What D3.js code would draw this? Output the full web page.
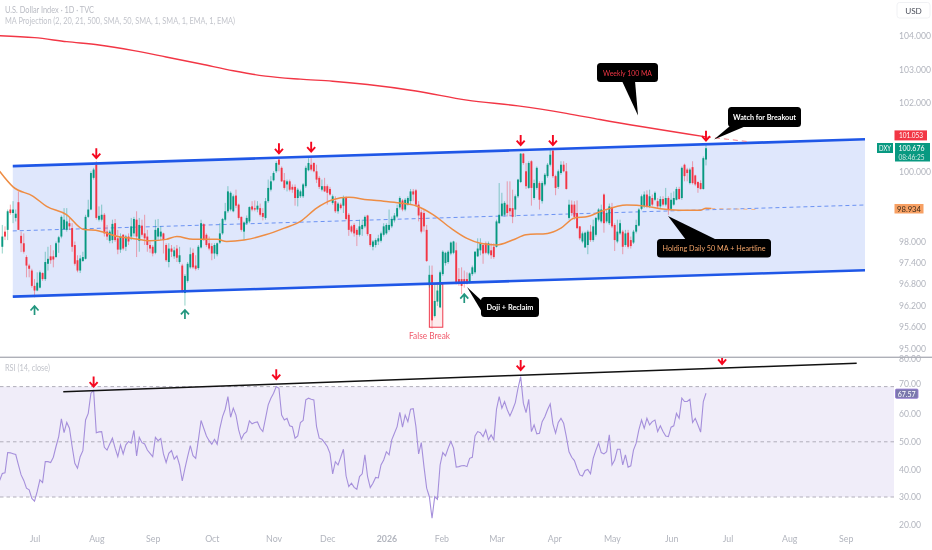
<!DOCTYPE html>
<html>
<head>
<meta charset="utf-8">
<script src="https://cdn.jsdelivr.net/npm/d3@7"></script>
<style>
  html, body { margin: 0; padding: 0; background: #fff; }
  svg { display: block; font-family: Lato, "Liberation Sans", sans-serif; }
</style>
</head>
<body>
<div id="chart"></div>
<script>
// daily candles, one row of ten per line
const opens = [
  97.85,98.28,98.33,98.91,98.81,98.67,99.12,98.16,97.95,97.56,
  97.32,97.18,96.75,96.62,96.70,97.11,96.94,97.37,97.58,97.58,
  97.56,97.97,98.14,98.35,98.33,98.52,98.38,97.90,97.47,97.18,
  97.45,97.51,98.70,98.91,99.82,100.20,98.62,98.62,98.76,98.28,
  98.02,98.04,98.52,98.09,97.77,98.19,97.85,98.14,98.14,98.23,
  98.62,98.02,98.45,98.23,98.14,97.90,97.85,97.68,98.14,98.14,
  98.23,97.90,97.42,97.80,97.58,97.80,97.42,97.32,96.55,96.89,
  97.27,97.68,97.32,97.25,97.83,98.49,98.19,97.95,97.87,97.66,
  97.64,97.97,98.23,98.62,98.86,98.91,98.86,99.31,99.05,98.70,
  98.28,98.52,98.57,99.00,98.95,98.91,98.95,98.81,98.67,99.15,
  99.48,99.75,100.01,100.35,100.11,99.75,99.63,99.72,99.56,99.56,
  99.24,99.29,99.29,99.58,100.04,100.20,100.25,100.01,99.82,99.48,
  99.58,99.58,99.50,99.10,99.15,98.86,99.05,99.02,99.24,98.76,
  98.43,98.47,98.33,98.19,98.35,98.43,98.74,98.21,97.85,97.90,
  98.00,98.02,98.19,98.23,98.33,98.43,98.60,98.71,98.97,99.17,
  98.91,99.05,99.15,99.43,99.46,99.05,98.83,98.81,98.33,96.77,
  97.06,95.91,96.31,96.15,97.08,97.39,97.42,97.66,97.68,97.75,
  96.94,96.94,96.94,96.94,96.84,97.08,97.13,97.58,97.75,97.90,
  97.95,97.66,97.75,97.85,97.85,98.52,98.73,98.76,99.05,98.95,
  98.95,98.91,99.29,99.70,100.52,100.01,99.53,100.30,99.24,99.53,
  99.67,99.15,99.63,99.87,100.20,100.61,99.87,99.56,99.96,100.20,
  100.01,98.67,99.05,99.05,98.81,98.43,98.00,97.83,97.90,98.28,
  98.04,98.19,98.62,98.57,99.34,98.57,98.52,98.98,98.47,98.00,
  98.23,98.28,97.90,98.25,98.04,97.97,98.28,98.45,98.93,99.00,
  99.34,99.00,99.24,99.19,99.15,99.00,99.21,99.05,99.24,98.93,
  99.05,99.19,99.50,99.24,100.20,100.06,99.67,100.13,99.89,99.70,
  99.67,99.50,100.35
]
const closes = [
  98.14,98.14,98.86,98.81,98.91,98.79,98.33,97.95,97.71,97.32,
  97.23,96.75,96.62,96.84,97.13,96.94,97.42,97.51,97.47,97.49,
  97.95,98.12,98.70,98.62,98.57,98.43,97.85,97.37,97.18,97.52,
  97.56,98.70,98.91,99.96,100.06,98.67,98.73,98.76,98.23,98.14,
  98.28,98.50,98.04,97.77,98.14,97.80,98.14,98.00,98.43,98.64,
  98.14,98.47,98.19,98.09,97.90,97.80,97.66,98.33,98.38,98.28,
  98.04,97.47,97.80,97.71,97.75,97.54,97.61,96.60,97.03,97.37,
  97.64,97.27,97.23,97.85,98.52,98.04,97.90,97.80,97.66,97.90,
  97.95,98.23,98.64,98.86,99.43,99.39,99.29,99.02,98.67,98.33,
  98.54,98.67,98.98,98.91,98.91,99.02,98.76,98.70,99.15,99.53,
  99.72,99.96,100.25,100.20,99.72,99.53,99.72,99.48,99.48,99.24,
  99.48,99.43,99.63,100.11,100.25,100.06,100.01,99.77,99.56,99.58,
  99.43,99.39,99.34,99.29,98.86,99.08,98.95,99.24,98.64,98.33,
  98.28,98.23,98.19,98.43,98.47,98.70,98.21,97.90,98.00,98.04,
  98.09,98.23,98.43,98.47,98.47,98.64,98.74,98.95,99.24,98.91,
  99.19,99.24,99.43,99.34,99.05,98.74,98.28,98.43,97.45,97.06,
  95.79,96.33,96.62,97.13,97.71,97.68,97.71,97.97,98.00,96.84,
  96.81,96.75,96.84,96.81,97.10,97.27,97.71,97.80,97.95,97.66,
  97.68,97.95,97.61,97.56,98.57,98.76,99.08,99.10,98.81,98.86,
  98.70,99.29,99.77,100.52,100.25,99.58,100.25,99.53,99.67,100.11,
  99.19,99.67,99.91,100.20,100.49,99.87,99.53,100.01,100.20,100.01,
  99.50,99.05,98.81,98.70,98.38,98.09,98.23,98.25,98.28,98.04,
  98.43,98.67,98.91,98.91,98.52,98.81,99.00,98.43,98.04,98.28,
  98.52,97.85,98.23,97.85,97.87,98.28,98.47,98.91,99.29,99.34,
  99.00,99.29,99.05,99.39,99.00,99.21,99.05,99.24,98.91,99.19,
  99.24,99.50,99.21,100.11,99.87,99.96,100.06,99.67,99.63,99.53,
  99.50,100.39,100.68
]
const highs = [
  98.47,98.43,98.91,99.05,99.15,98.91,99.43,98.28,98.23,97.61,
  97.37,97.23,96.94,97.13,97.18,97.13,97.71,97.85,97.90,97.75,
  98.00,98.16,98.74,98.95,98.95,98.67,98.52,98.00,97.61,97.61,
  97.71,98.76,99.19,100.01,100.11,100.30,99.00,99.05,98.81,98.47,
  98.33,98.62,98.64,98.33,98.23,98.21,98.19,98.23,98.67,98.70,
  98.86,98.67,98.62,98.76,98.33,98.00,97.90,98.62,98.64,98.43,
  98.25,97.95,97.95,97.90,97.85,97.90,97.85,97.37,97.08,97.42,
  97.83,97.80,97.61,97.90,98.62,98.52,98.23,98.14,97.95,97.95,
  97.97,98.52,98.67,99.10,99.58,99.43,99.34,99.48,99.08,98.71,
  98.57,98.74,99.00,99.15,99.17,99.15,99.08,98.95,99.24,99.77,
  99.87,100.01,100.30,100.37,100.15,99.96,99.77,99.77,99.63,99.63,
  99.53,99.48,99.67,100.17,100.39,100.39,100.27,100.20,99.87,99.77,
  99.82,99.63,99.56,99.34,99.29,99.12,99.10,99.31,99.29,98.81,
  98.47,98.52,98.38,98.62,98.62,98.74,98.76,98.21,98.04,98.09,
  98.19,98.28,98.52,98.52,98.91,98.71,98.81,99.05,99.29,99.21,
  99.24,99.29,99.50,99.50,99.50,99.15,98.91,98.91,98.47,97.32,
  97.32,96.79,96.79,97.18,97.75,97.71,97.75,98.00,98.02,97.97,
  97.25,97.27,97.18,97.13,97.13,97.32,97.73,98.09,98.09,97.95,
  98.00,98.00,97.95,97.95,98.62,99.67,99.39,99.15,99.72,99.72,
  99.48,99.34,99.79,100.54,100.54,100.25,100.30,100.33,99.77,100.15,
  99.72,99.72,99.96,100.25,100.63,100.63,99.91,100.06,100.30,100.30,
  100.25,99.19,99.17,99.15,99.17,98.43,98.28,98.28,98.33,98.47,
  98.62,98.70,98.95,99.05,99.37,98.91,99.08,99.10,98.52,98.62,
  98.62,98.33,98.33,98.33,98.14,98.33,98.62,98.95,99.34,99.43,
  99.46,99.48,99.34,99.43,99.24,99.29,99.29,99.53,99.29,99.39,
  99.43,99.56,99.56,100.15,100.23,100.11,100.11,100.30,99.91,99.72,
  99.75,100.44,100.78
]
const lows = [
  97.66,98.04,98.04,98.76,98.52,98.57,98.33,97.70,97.66,96.99,
  96.99,96.70,96.43,96.60,96.68,96.89,96.89,97.18,97.37,97.27,
  97.54,97.68,98.09,98.33,98.28,98.33,97.71,97.32,97.13,97.11,
  97.42,97.49,98.67,98.89,99.77,98.62,98.57,98.57,98.14,98.04,
  97.95,97.95,97.99,97.64,97.68,97.75,97.73,97.90,98.04,98.14,
  97.56,97.71,98.14,97.90,97.71,97.68,97.58,97.64,98.04,98.04,
  97.66,97.42,97.27,97.56,97.51,97.42,97.37,96.55,96.20,96.84,
  97.23,97.23,97.18,97.20,97.80,98.02,97.85,97.75,97.47,97.51,
  97.58,97.93,98.19,98.57,98.81,98.86,98.83,98.95,98.62,98.28,
  98.04,98.47,98.52,98.86,98.86,98.83,98.71,98.60,98.62,99.10,
  99.43,99.72,99.96,100.01,99.70,99.48,99.43,99.43,99.39,99.02,
  99.00,99.24,99.24,99.53,100.01,100.01,99.98,99.67,99.50,99.43,
  99.41,99.05,99.31,99.05,98.81,98.79,98.91,98.81,98.60,98.16,
  98.23,98.14,97.87,98.14,98.16,98.38,98.16,97.85,97.75,97.83,
  97.90,97.97,98.14,98.19,98.28,98.38,98.54,98.67,98.91,98.86,
  98.86,99.02,99.05,99.15,99.00,98.57,98.23,98.28,97.42,96.70,
  95.56,95.87,96.19,96.13,97.03,97.32,97.37,97.61,97.64,96.79,
  96.75,96.52,96.70,96.79,96.81,97.03,97.08,97.56,97.61,97.37,
  97.64,97.61,97.51,97.51,97.83,98.50,98.70,98.71,98.71,98.73,
  98.52,98.70,99.24,99.67,100.20,99.50,99.50,99.02,99.19,99.48,
  98.91,99.08,99.58,99.82,100.15,99.82,99.32,99.50,99.91,99.98,
  99.48,98.62,98.73,98.62,98.35,98.04,97.95,97.83,97.64,97.99,
  97.99,98.14,98.57,98.52,98.25,98.52,98.47,98.38,97.73,97.95,
  98.19,97.64,97.85,97.80,97.80,97.93,98.23,98.43,98.89,98.95,
  98.95,98.95,99.00,99.15,98.95,98.95,99.00,99.00,98.76,98.89,
  99.02,99.17,99.19,99.19,99.72,99.72,99.63,99.63,99.58,99.39,
  99.48,99.48,100.18
]
// rsi starts one bar before the first candle, at the left edge
const rsi = [
  36.0,
  38.5,38.8,46.1,46.0,45.7,45.4,41.6,38.0,36.0,33.2,
  32.6,29.5,28.5,32.0,36.2,35.2,42.8,42.8,42.5,44.4,
  48.3,51.9,58.3,53.3,57.0,54.9,48.3,42.2,40.4,44.6,
  46.8,57.9,60.3,67.6,68.6,53.3,53.6,53.7,48.0,47.0,
  49.2,51.3,47.7,44.6,48.9,45.6,48.9,50.1,49.5,54.1,
  44.9,51.6,49.7,49.2,47.0,45.8,44.6,51.6,50.4,51.2,
  45.6,42.5,45.8,46.8,43.7,44.9,41.6,35.8,40.4,44.6,
  48.6,45.0,44.0,50.7,57.7,54.9,52.1,50.4,49.1,50.9,
  49.1,54.9,59.1,61.8,66.4,58.9,62.2,59.7,54.3,50.9,
  52.9,53.7,57.6,56.5,57.0,57.2,54.9,53.7,58.5,63.4,
  65.8,67.6,70.0,69.4,59.7,57.9,58.5,55.8,55.5,51.3,
  52.1,57.0,57.7,65.2,65.8,65.4,65.2,55.5,51.3,50.9,
  49.7,48.3,45.8,38.4,42.8,41.6,44.4,47.3,37.6,33.8,
  35.0,33.5,32.8,37.4,38.4,45.3,37.4,33.4,35.0,37.1,
  36.9,41.6,43.4,46.4,45.3,50.7,53.1,55.5,60.7,55.3,
  59.7,57.3,61.8,62.0,55.5,45.6,49.7,41.0,33.2,30.1,
  22.3,30.1,29.2,41.6,46.1,44.9,47.7,50.1,47.7,40.8,
  41.0,41.3,41.4,41.0,44.0,44.4,52.1,53.7,53.3,51.9,
  54.3,50.7,52.5,50.7,61.8,66.4,62.2,64.6,61.6,59.4,
  61.6,64.2,69.4,73.6,64.0,60.6,65.4,53.7,56.1,52.9,
  53.1,57.3,59.1,61.6,63.7,56.5,53.1,57.0,58.5,56.7,
  51.9,46.4,44.4,43.2,40.4,38.0,37.6,39.6,40.0,38.4,
  44.0,47.0,49.5,46.1,45.6,46.4,52.5,41.6,43.4,47.3,
  47.3,41.6,45.3,40.8,41.3,47.0,49.5,54.3,57.9,54.9,
  58.5,56.1,57.3,57.9,53.7,55.8,53.7,52.1,51.9,55.3,
  55.8,60.3,58.5,65.8,64.6,64.6,65.4,57.0,58.5,56.1,
  53.5,64.6,67.6
]

// moving averages, sampled along the bar index
const weeklyIdx = [-1,12,24,36,49,61,74,86,98,111,123,136,154,173,192,210,222.5,262]
const weeklyVal = [104.01,103.95,103.83,103.73,103.56,103.37,103.16,102.96,102.80,102.71,102.65,102.55,102.36,102.09,101.92,101.70,101.52,101.01]
const weeklyProjIdx = [262,270,278]
const weeklyProjVal = [101.01,100.94,100.87]
const dailyIdx = [-1,4,11.5,16.5,24,30,36,43,49,55,61,65,71,80,83.5,90,98,105,111,117,123,129,136,142,148,154,160.5,167,173,178,184,190,195,203,208,213,218,223,232.5,240,245,252,260,262,264]
const dailyVal = [100.01,99.56,99.29,99.00,98.76,98.35,98.30,98.14,98.08,98.02,98.06,98.14,98.06,98.06,98.00,98.04,98.19,98.38,98.57,98.95,99.19,99.26,99.19,99.15,99.10,99.02,98.76,98.38,98.09,97.95,97.90,98.04,98.19,98.23,98.38,98.67,98.71,98.86,99.04,99.00,98.93,98.89,98.89,98.95,98.94]
const dailyProjIdx = [264,281]
const dailyProjVal = [98.94,98.91]

// channel drawn on the chart: [start bar, end bar], prices at each end
const channelBars = [3.9, 321.2]
const channelUpper = [100.16, 100.94]
const channelMiddle = [98.30, 99.04]
const channelLower = [96.45, 97.19]
const rsiTrendBars = [22.7, 318.1]
const rsiTrendVals = [68.1, 78.5]

// arrows: bar and price or rsi at the tip
const downBars = [35,103,115,193,205,262]
const downPrices = [100.39,100.53,100.58,100.77,100.77,100.90]
const upBars = [12,68,172]
const upPrices = [96.19,96.08,96.52]
const rsiArrowBars = [34,102,193,268]
const rsiArrowVals = [70,72.7,76,78.2]
const falseBreakBars = [159, 164]
const falseBreakPrices = [96.80, 95.60]

const priceTicks = [104,103,102,100,98,97.4,96.8,96.2,95.6,95]
const rsiTicks = [80,70,60,50,40,30,20]
const rsiDashes = [70,50,30]
const monthBars = [12,35,56,78,101,121,143,163.5,184,205.5,227,249,270,293,314]
const monthNames = ["Jul","Aug","Sep","Oct","Nov","Dec","2026","Feb","Mar","Apr","May","Jun","Jul","Aug","Sep"]

const width = 932, height = 550
const paneRight = 894
const green = "#089981", red = "#f23645", grey = "#b2b5be"

const x = d3.scaleLinear().domain([0, 262]).range([2.3, 706])
const y = d3.scaleLog().domain([95, 104]).range([349, 36])
const yr = d3.scaleLinear().domain([20, 80]).range([524.6, 359])

const svg = d3.select("#chart").append("svg")
  .attr("width", width)
  .attr("height", height)
  .style("filter", "blur(0.4px)")

const defs = svg.append("defs")
defs.append("clipPath").attr("id", "top")
  .append("rect").attr("width", paneRight).attr("height", 357)
defs.append("clipPath").attr("id", "bottom")
  .append("rect").attr("y", 358).attr("width", paneRight).attr("height", 170)

const main = svg.append("g").attr("clip-path", "url(#top)")
const lower = svg.append("g").attr("clip-path", "url(#bottom)")

// channel
const chanArea = d3.area()
  .x((d, i) => x(channelBars[i]))
  .y0((d, i) => y(channelLower[i]))
  .y1((d, i) => y(channelUpper[i]))
main.append("path").attr("d", chanArea(channelBars)).attr("fill", "#dfe7fc")

const twoPoint = (vals, sy) => d3.line().x((d, i) => x(channelBars[i])).y((d, i) => sy(vals[i]))(channelBars)
main.append("path").attr("d", twoPoint(channelMiddle, y))
  .attr("fill", "none").attr("stroke", "#6c93f3").attr("stroke-width", 1).attr("stroke-dasharray", "4 3")

// false break box
main.append("rect")
  .attr("x", x(falseBreakBars[0]))
  .attr("width", x(falseBreakBars[1]) - x(falseBreakBars[0]))
  .attr("y", y(falseBreakPrices[0]))
  .attr("height", y(falseBreakPrices[1]) - y(falseBreakPrices[0]))
  .attr("fill", "#fbe9ea").attr("fill-opacity", 0.85)
  .attr("stroke", "#ee3a4c").attr("stroke-width", 1)

// candles
const candles = main.append("g").selectAll("g").data(d3.range(opens.length)).enter().append("g")
const candleColor = i => closes[i] >= opens[i] ? green : red
candles.append("line")
  .attr("x1", i => x(i)).attr("x2", i => x(i))
  .attr("y1", i => y(highs[i])).attr("y2", i => y(lows[i]))
  .attr("stroke", candleColor).attr("stroke-width", 0.8).attr("stroke-opacity", 0.55)
candles.append("rect")
  .attr("x", i => x(i) - 0.95).attr("width", 1.9)
  .attr("y", i => y(Math.max(opens[i], closes[i])))
  .attr("height", i => Math.max(0.8, Math.abs(y(opens[i]) - y(closes[i]))))
  .attr("fill", candleColor)

// channel borders on top of the candles
main.append("path").attr("d", twoPoint(channelUpper, y))
  .attr("fill", "none").attr("stroke", "#1f57e7").attr("stroke-width", 2.6)
main.append("path").attr("d", twoPoint(channelLower, y))
  .attr("fill", "none").attr("stroke", "#1f57e7").attr("stroke-width", 2.6)

// moving averages
const maLine = (idx, val) => d3.line().curve(d3.curveMonotoneX)
  .x((d, i) => x(idx[i])).y((d, i) => y(val[i]))(idx)
main.append("path").attr("d", maLine(weeklyIdx, weeklyVal))
  .attr("fill", "none").attr("stroke", "#f23645").attr("stroke-width", 1.4)
main.append("path").attr("d", maLine(weeklyProjIdx, weeklyProjVal))
  .attr("fill", "none").attr("stroke", "#f4808c").attr("stroke-width", 1).attr("stroke-dasharray", "5 4")
main.append("path").attr("d", maLine(dailyIdx, dailyVal))
  .attr("fill", "none").attr("stroke", "#ee8d44").attr("stroke-width", 1.5)
main.append("path").attr("d", maLine(dailyProjIdx, dailyProjVal))
  .attr("fill", "none").attr("stroke", "#f5b78a").attr("stroke-width", 1).attr("stroke-dasharray", "4 4")

// arrows, tip at the given value
function downArrow(g, px, py, color) {
  g.append("path")
    .attr("d", `M${px},${py - 10}V${py}M${px - 4},${py - 4.5}L${px},${py}L${px + 4},${py - 4.5}`)
    .attr("fill", "none").attr("stroke", color).attr("stroke-width", 1.9)
}
function upArrow(g, px, py, color) {
  g.append("path")
    .attr("d", `M${px},${py + 9}V${py}M${px - 4},${py + 4.5}L${px},${py}L${px + 4},${py + 4.5}`)
    .attr("fill", "none").attr("stroke", color).attr("stroke-width", 1.7)
}
downBars.forEach((b, i) => downArrow(main, x(b), y(downPrices[i]), "#f5071f"))
upBars.forEach((b, i) => upArrow(main, x(b), y(upPrices[i]), "#22967e"))

main.append("text").text("False Break")
  .attr("x", 429.5).attr("y", 339).attr("text-anchor", "middle")
  .attr("font-size", 8.6).attr("fill", "#f0596a")
  .attr("textLength", 41).attr("lengthAdjust", "spacingAndGlyphs")

// callouts: box, tail tip, text and its width
const callouts = [
  { text: "Weekly 100 MA", box: [597, 63, 61, 19], tail: [622, 635, 638, 115.5], color: "#f23645", len: 49 },
  { text: "Watch for Breakout", box: [728, 107, 73, 20], tail: [730, 746, 714, 139.5], color: "#ffffff", len: 63, bold: true },
  { text: "Holding Daily 50 MA + Heartline", box: [657, 239, 114, 18.5], tail: [686, 717, 668, 216], color: "#f5a569", len: 103 },
  { text: "Doji + Reclaim", box: [481, 297, 58, 20], tail: [483, 494, 467, 287], color: "#ffffff", len: 47, bold: true }
]
callouts.forEach(c => {
  const [bx, by, bw, bh] = c.box
  const [t0, t1, tx, ty] = c.tail
  const edge = ty < by ? by + 1 : by + bh - 1
  const side = tx < bx && Math.abs(ty - by) < 30
  svg.append("path")
    .attr("d", side
      ? `M${bx + 1},${by + 4}L${tx},${ty}L${bx + 1},${by + 15}Z`
      : `M${t0},${edge}L${tx},${ty}L${t1},${edge}Z`)
    .attr("fill", "#000")
  svg.append("rect").attr("x", bx).attr("y", by).attr("width", bw).attr("height", bh).attr("rx", 3.5).attr("fill", "#000")
  svg.append("text").text(c.text)
    .attr("x", bx + bw / 2).attr("y", by + bh / 2 + 3)
    .attr("text-anchor", "middle").attr("font-size", 8).attr("fill", c.color)
    .attr("font-weight", c.bold ? 700 : 400)
    .attr("textLength", c.len).attr("lengthAdjust", "spacingAndGlyphs")
})

// rsi pane
lower.append("rect")
  .attr("x", 0).attr("width", paneRight)
  .attr("y", yr(70)).attr("height", yr(30) - yr(70))
  .attr("fill", "#f0edf9")
lower.selectAll("line.lvl").data(rsiDashes).enter().append("line")
  .attr("class", "lvl")
  .attr("x1", 0).attr("x2", paneRight)
  .attr("y1", d => yr(d)).attr("y2", d => yr(d))
  .attr("stroke", "#a9a7b3").attr("stroke-width", 0.9).attr("stroke-dasharray", "3.5 3")
lower.append("path")
  .attr("d", d3.line().x((d, i) => x(i - 1)).y(d => yr(d))(rsi))
  .attr("fill", "none").attr("stroke", "#a58fdb").attr("stroke-width", 1.1)
lower.append("path")
  .attr("d", d3.line().x(d => x(d)).y((d, i) => yr(rsiTrendVals[i]))(rsiTrendBars))
  .attr("fill", "none").attr("stroke", "#111").attr("stroke-width", 1.5)
rsiArrowBars.forEach((b, i) => downArrow(lower, x(b), yr(rsiArrowVals[i]), "#f5071f"))

// axes
const priceAxis = d3.axisRight(y).tickValues(priceTicks).tickSize(0).tickPadding(0).tickFormat(d3.format(".3f"))
const gp = svg.append("g").attr("transform", "translate(899,0)").call(priceAxis)
const rsiAxis = d3.axisRight(yr).tickValues(rsiTicks).tickSize(0).tickPadding(0).tickFormat(d3.format(".2f"))
const gr = svg.append("g").attr("transform", "translate(899,0)").call(rsiAxis)
const timeAxis = d3.axisBottom(x).tickValues(monthBars).tickSize(0).tickPadding(0)
  .tickFormat((d, i) => monthNames[i])
const gt = svg.append("g").attr("transform", "translate(0,536)").call(timeAxis)
;[gp, gr, gt].forEach(g => {
  g.select(".domain").remove()
  g.selectAll("text").attr("fill", grey).attr("font-size", 8.6).attr("font-family", "Lato, sans-serif")
})
gt.selectAll("text").attr("font-size", 8.8).attr("font-weight", (d, i) => monthNames[i] === "2026" ? 700 : 400)
// the 70 label sits just above the last-value tag
gr.selectAll("text").filter(d => d === 70).attr("dy", "-0.02em")

svg.append("rect").attr("x", 0).attr("y", 356.6).attr("width", width).attr("height", 1.4).attr("fill", "#aeb0b8")

// legends
svg.append("text").text("U.S. Dollar Index · 1D · TVC").attr("x", 5).attr("y", 13)
  .attr("font-size", 9).attr("fill", "#b9bbc3")
  .attr("textLength", 89).attr("lengthAdjust", "spacingAndGlyphs")
svg.append("text").text("MA Projection (2, 20, 21, 500, SMA, 50, SMA, 1, SMA, 1, EMA, 1, EMA)").attr("x", 5).attr("y", 23.5)
  .attr("font-size", 9).attr("fill", "#c2c4cb")
  .attr("textLength", 230).attr("lengthAdjust", "spacingAndGlyphs")
svg.append("text").text("RSI (14, close)").attr("x", 5).attr("y", 371)
  .attr("font-size", 8.6).attr("fill", "#c2c4cb")
  .attr("textLength", 45).attr("lengthAdjust", "spacingAndGlyphs")

// USD button
svg.append("rect").attr("x", 897).attr("y", 2.5).attr("width", 33).attr("height", 15.5).attr("rx", 2.5)
  .attr("fill", "#fff").attr("stroke", "#f0f1f4")
svg.append("text").text("USD").attr("x", 913.5).attr("y", 13.5).attr("text-anchor", "middle")
  .attr("font-size", 8.2).attr("fill", "#4a4e5a")

// price tags
function tag(px, py, w, h, fill, lines, textFill, textX, len, stroke) {
  const r = svg.append("rect").attr("x", px).attr("y", py).attr("width", w).attr("height", h).attr("fill", fill)
  if (stroke) r.attr("stroke", stroke).attr("stroke-width", 0.9).attr("rx", 1)
  lines.forEach((l, i) => svg.append("text").text(l.t)
    .attr("x", textX).attr("y", py + 8 + i * 9.3)
    .attr("text-anchor", "middle").attr("font-size", 8.4)
    .attr("fill", l.fill || textFill)
    .attr("textLength", len).attr("lengthAdjust", "spacingAndGlyphs"))
}
tag(894.5, y(101.053) - 5, 32.5, 10, red, [{ t: "101.053" }], "#fff", 911, 24)
tag(877, 143, 16, 10, green, [{ t: "DXY" }], "#fff", 885, 12)
tag(895, 143, 35, 18.5, green, [{ t: "100.676" }, { t: "08:46:25", fill: "#cfe9e3" }], "#fff", 911.5, 26)
tag(894.5, y(98.934) - 4.7, 29, 9.5, "#f7a063", [{ t: "98.934" }], "#3a2a1a", 909, 24)
tag(895.5, yr(67.57) - 4.2, 22.5, 9.2, "#7b78ad", [{ t: "67.57" }], "#fff", 906.7, 18, "#9a7fd6")
</script>
</body>
</html>
